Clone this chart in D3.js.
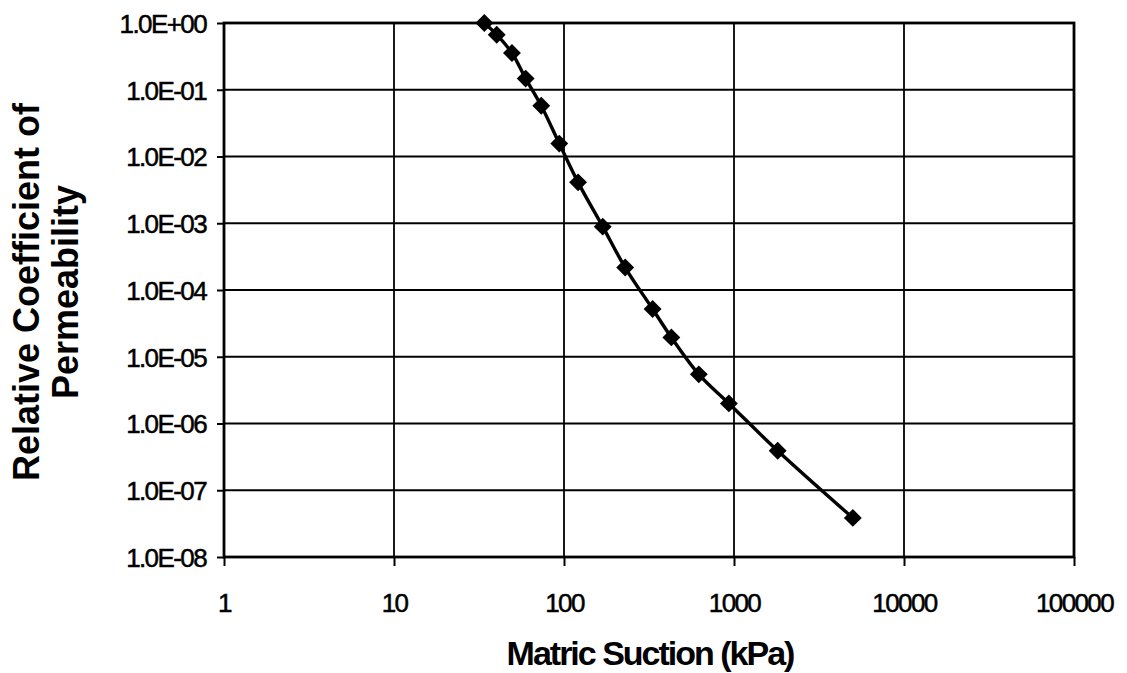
<!DOCTYPE html>
<html>
<head>
<meta charset="utf-8">
<script src="https://cdn.jsdelivr.net/npm/d3@7"></script>
<style>
    html, body { margin: 0; padding: 0; background: #fff; }
    svg { display: block; font-family: "Liberation Sans", Arial, Helvetica, sans-serif; }
</style>
</head>
<body>
<div id="chart"></div>
<script>
// matric suction (kPa) and relative coefficient of permeability
const suction = [34, 40.2, 49.4, 59.5, 73.5, 93.8, 121, 169, 229, 332, 428, 621, 933, 1807, 5000];
const permeability = [1.0, 0.668, 0.355, 0.147, 0.0577, 0.0156, 0.0041, 8.9e-4, 2.17e-4, 5.2e-5, 1.95e-5, 5.45e-6, 2.0e-6, 3.9e-7, 3.85e-8];

const xTickValues = [1, 10, 100, 1000, 10000, 100000];
const xTickLabels = ["1", "10", "100", "1000", "10000", "100000"];
const yTickValues = [1, 1e-1, 1e-2, 1e-3, 1e-4, 1e-5, 1e-6, 1e-7, 1e-8];
const yTickLabels = ["1.0E+00", "1.0E-01", "1.0E-02", "1.0E-03", "1.0E-04", "1.0E-05", "1.0E-06", "1.0E-07", "1.0E-08"];

const xTitle = "Matric Suction (kPa)";
const yTitleLines = ["Relative Coefficient of", "Permeability"];

function init() {
    const width = 1127;
    const height = 673;
    const plot = { left: 224, right: 1074, top: 23, bottom: 557 };

    const svg = d3.select("#chart")
        .append("svg")
        .attr("width", width)
        .attr("height", height);

    const x = d3.scaleLog().domain([1, 100000]).range([plot.left, plot.right]);
    const y = d3.scaleLog().domain([1e-8, 1]).range([plot.bottom, plot.top]);

    // grid
    const grid = svg.append("g").attr("stroke", "#000").attr("stroke-width", 1.8);
    grid.selectAll(".hgrid")
        .data(yTickValues)
        .join("line")
        .attr("x1", plot.left).attr("x2", plot.right)
        .attr("y1", d => y(d)).attr("y2", d => y(d));
    grid.selectAll(".vgrid")
        .data(xTickValues)
        .join("line")
        .attr("x1", d => x(d)).attr("x2", d => x(d))
        .attr("y1", plot.top).attr("y2", plot.bottom);

    // frame
    svg.append("rect")
        .attr("x", plot.left).attr("y", plot.top)
        .attr("width", plot.right - plot.left)
        .attr("height", plot.bottom - plot.top)
        .attr("fill", "none")
        .attr("stroke", "#000")
        .attr("stroke-width", 2.8);

    // axes
    const xAxis = d3.axisBottom(x)
        .tickValues(xTickValues)
        .tickFormat((d, i) => xTickLabels[i])
        .tickSize(9)
        .tickPadding(46);
    const yAxis = d3.axisLeft(y)
        .tickValues(yTickValues)
        .tickFormat((d, i) => yTickLabels[i])
        .tickSize(7)
        .tickPadding(11);

    const gx = svg.append("g")
        .attr("transform", `translate(0,${plot.bottom})`)
        .call(xAxis);
    const gy = svg.append("g")
        .attr("transform", `translate(${plot.left},0)`)
        .call(yAxis);

    [gx, gy].forEach(g => {
        g.select(".domain").remove();
        g.selectAll(".tick line").attr("stroke", "#000").attr("stroke-width", 2);
        g.selectAll(".tick text")
            .attr("fill", "#000")
            .attr("stroke", "#000")
            .attr("stroke-width", 0.5)
            .style("font-size", "26px")
            .style("letter-spacing", "-1.6px");
    });
    gx.selectAll(".tick text").attr("dy", "0");
    gy.selectAll(".tick text").attr("dy", "0.36em");

    // curve
    const points = suction.map((s, i) => ({ s: s, k: permeability[i] }));

    const line = d3.line()
        .x(d => x(d.s))
        .y(d => y(d.k))
        .curve(d3.curveCatmullRom.alpha(0.5));

    svg.append("path")
        .datum(points)
        .attr("d", line)
        .attr("fill", "none")
        .attr("stroke", "#000")
        .attr("stroke-width", 3.4);

    const diamond = d3.symbol().type(d3.symbolSquare).size(160);
    svg.selectAll(".marker")
        .data(points)
        .join("path")
        .attr("class", "marker")
        .attr("d", diamond)
        .attr("transform", d => `translate(${x(d.s)},${y(d.k)}) rotate(45)`)
        .attr("fill", "#000");

    // titles
    svg.append("text")
        .attr("x", 650)
        .attr("y", 665)
        .attr("text-anchor", "middle")
        .style("font-size", "34px")
        .style("font-weight", "bold")
        .style("letter-spacing", "-2px")
        .text(xTitle);

    const yTitle = svg.append("text")
        .attr("transform", "translate(0,292) rotate(-90)")
        .attr("text-anchor", "middle")
        .style("font-size", "36px")
        .style("font-weight", "bold");
    yTitle.selectAll("tspan")
        .data(yTitleLines)
        .join("tspan")
        .attr("x", 0)
        .attr("y", (d, i) => 39 + i * 39)
        .text(d => d);
}

init();
</script>
</body>
</html>
